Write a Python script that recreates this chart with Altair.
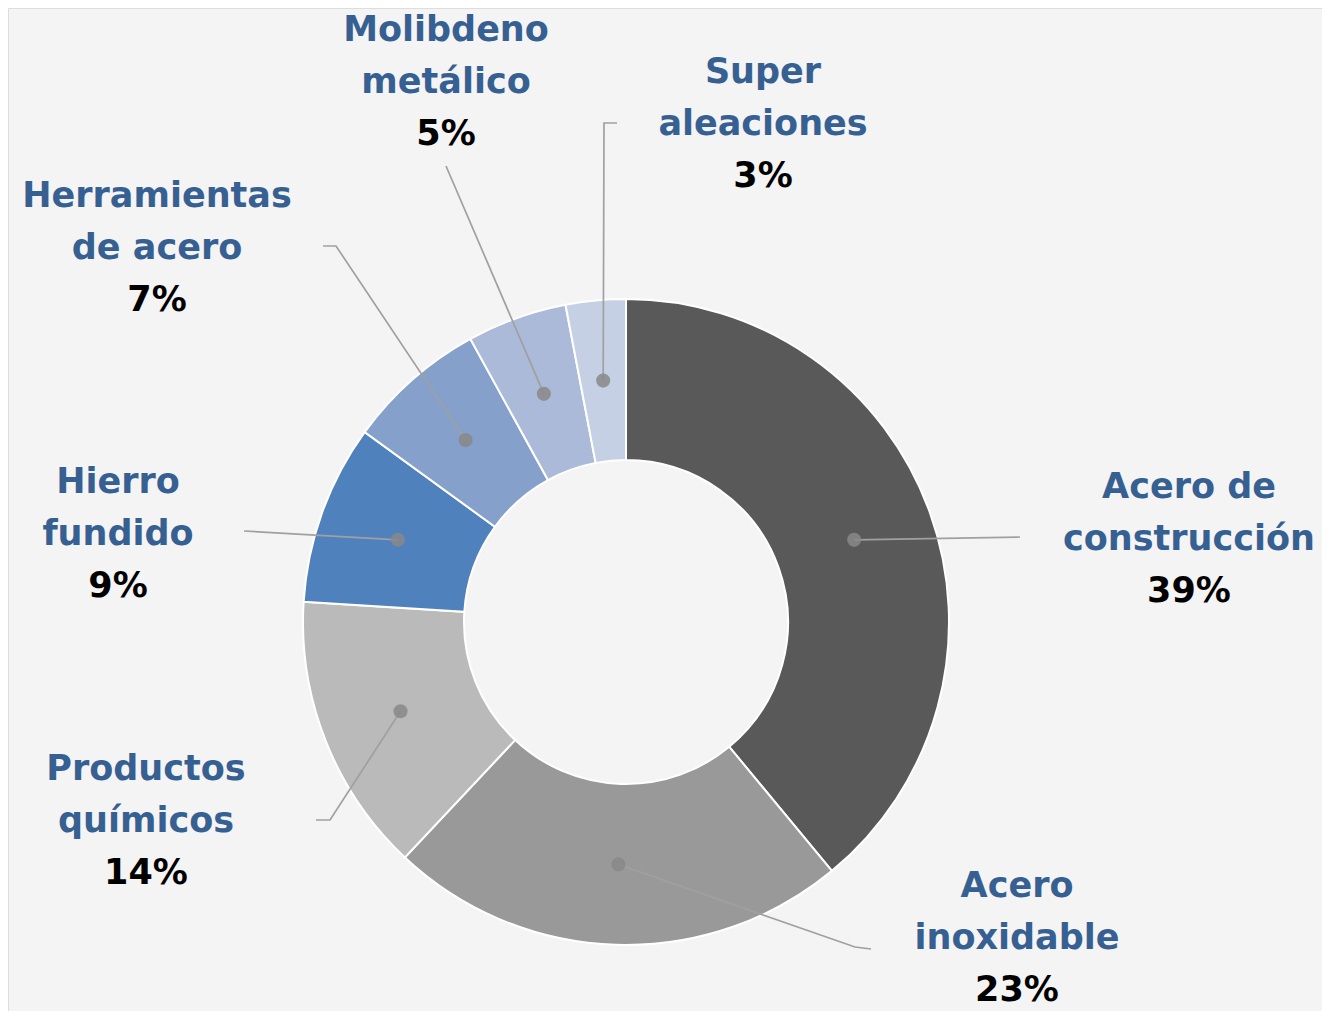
import math
import altair as alt
import pandas as pd

# ---- data ----
categories = ["Acero de\nconstrucción", "Acero\ninoxidable", "Productos\nquímicos",
              "Hierro\nfundido", "Herramientas\nde acero", "Molibdeno\nmetálico",
              "Super\naleaciones"]
shares = [39, 23, 14, 9, 7, 5, 3]
slice_colors = ["#595959", "#999999", "#bababa", "#4f81bd", "#85a0cb", "#abbad8", "#c5d0e4"]

# ---- layout (image pixel coordinates) ----
W, H = 1314, 1003
M = 8
CX, CY = 626, 622
R_OUT, R_IN = 323, 162
R_DOT = (R_OUT + R_IN) / 2
LINE_GAP = 52
# label block centre x and first-line y
label_pos = [(1189, 487), (1017, 886), (146, 769), (118, 482), (157, 196), (446, 30), (763, 72)]
# leader line bend points (after leaving the dot)
leader_pts = [
    [(1020, 537)],
    [(855, 947), (871, 949)],
    [(330, 820), (316, 820)],
    [(244, 531)],
    [(336, 246), (323, 246)],
    [(446, 166)],
    [(604, 123), (617, 123)],
]

arc_df = pd.DataFrame({"cat": categories, "share": shares, "order": list(range(len(shares)))})

dots, lines, texts = [], [], []
cum = 0
total = sum(shares)
for i, (c, s) in enumerate(zip(categories, shares)):
    mid = (cum + s / 2) / total * 2 * math.pi
    cum += s
    dx = CX + R_DOT * math.sin(mid)
    dy = CY - R_DOT * math.cos(mid)
    dots.append({"x": dx, "y": dy, "cat": c})
    pts = [(dx, dy)] + leader_pts[i]
    for k, (px, py) in enumerate(pts):
        lines.append({"x": px, "y": py, "cat": c, "k": k})
    lx, ly = label_pos[i]
    parts = c.split("\n")
    for j, p in enumerate(parts):
        texts.append({"x": lx, "y": ly + j * LINE_GAP, "t": p, "kind": "name"})
    texts.append({"x": lx, "y": ly + len(parts) * LINE_GAP, "t": f"{s}%", "kind": "pct"})

dots_df = pd.DataFrame(dots)
lines_df = pd.DataFrame(lines)
texts_df = pd.DataFrame(texts)

xs = alt.Scale(domain=[M, W + M], range=[0, W])
ys = alt.Scale(domain=[M, H + M], range=[0, H])
X = lambda: alt.X("x:Q", scale=xs, axis=None)
Y = lambda: alt.Y("y:Q", scale=ys, axis=None)

arcs = alt.Chart(arc_df).mark_arc(
    outerRadius=R_OUT, innerRadius=R_IN, stroke="white", strokeWidth=2
).encode(
    theta=alt.Theta("share:Q", stack=True),
    order=alt.Order("order:Q", sort="ascending"),
    color=alt.Color("cat:N", scale=alt.Scale(domain=categories, range=slice_colors), legend=None),
    x=alt.value(CX - M),
    y=alt.value(CY - M),
)

leader = alt.Chart(lines_df).mark_line(color="#a0a0a0", strokeWidth=1.7).encode(
    x=X(), y=Y(), detail="cat:N", order="k:Q"
)

dot_layer = alt.Chart(dots_df).mark_point(filled=True, size=200, color="#888888", opacity=0.85).encode(
    x=X(), y=Y()
)

name_text = alt.Chart(texts_df).transform_filter(alt.datum.kind == "name").mark_text(
    font="DejaVu Sans", fontWeight="bold", fontSize=35, color="#376092",
    align="center", baseline="middle"
).encode(x=X(), y=Y(), text="t:N")

pct_text = alt.Chart(texts_df).transform_filter(alt.datum.kind == "pct").mark_text(
    font="DejaVu Sans", fontWeight="bold", fontSize=35, color="#000000",
    align="center", baseline="middle"
).encode(x=X(), y=Y(), text="t:N")

chart = alt.layer(arcs, leader, dot_layer, name_text, pct_text).properties(
    width=W, height=H, autosize=alt.AutoSizeParams(type="none"), padding=0,
    background="#f4f4f4"
).configure_view(stroke=None).configure(background="#f4f4f4")

chart.save("out.html", embed_options={"renderer": "svg", "actions": False})
